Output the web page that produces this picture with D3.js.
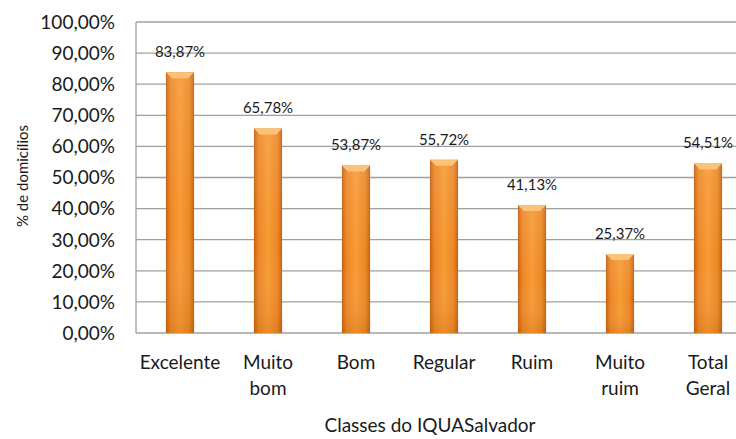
<!DOCTYPE html>
<html>
<head>
<meta charset="utf-8">
<script src="https://cdn.jsdelivr.net/npm/d3@7"></script>
<style>
  body { margin: 0; background: #fff; }
  svg { display: block; font-family: Lato, "Open Sans", sans-serif; }
</style>
</head>
<body>
<div id="chart"></div>
<script>
var categories = [["Excelente"], ["Muito", "bom"], ["Bom"], ["Regular"], ["Ruim"], ["Muito", "ruim"], ["Total", "Geral"]];
var values = [83.87, 65.78, 53.87, 55.72, 41.13, 25.37, 54.51];
var ticks = [0, 10, 20, 30, 40, 50, 60, 70, 80, 90, 100];

var width = 736,
    height = 439;

var fmt = function(v) { return v.toFixed(2).replace(".", ",") + "%"; };

var svg = d3.select("#chart").append("svg")
    .attr("width", width)
    .attr("height", height);

var x = d3.scaleBand()
    .domain(d3.range(categories.length))
    .range([136, 752])
    .paddingInner(0.68)
    .paddingOuter(0.34);

var y = d3.scaleLinear()
    .domain([0, 100])
    .range([333, 22]);

// bar gradient: darker edges, lighter middle
var defs = svg.append("defs");
var grad = defs.append("linearGradient").attr("id", "barGrad")
    .attr("x1", "0").attr("x2", "1").attr("y1", "0").attr("y2", "0");
grad.append("stop").attr("offset", "0%").attr("stop-color", "#c4600f");
grad.append("stop").attr("offset", "16%").attr("stop-color", "#ec8625");
grad.append("stop").attr("offset", "50%").attr("stop-color", "#f79a33");
grad.append("stop").attr("offset", "84%").attr("stop-color", "#ec8625");
grad.append("stop").attr("offset", "100%").attr("stop-color", "#c4600f");

var shade = defs.append("linearGradient").attr("id", "shadeGrad")
    .attr("x1", "0").attr("x2", "0").attr("y1", "0").attr("y2", "1");
shade.append("stop").attr("offset", "0%").attr("stop-color", "#fff").attr("stop-opacity", 0.1);
shade.append("stop").attr("offset", "60%").attr("stop-color", "#fff").attr("stop-opacity", 0);
shade.append("stop").attr("offset", "100%").attr("stop-color", "#a84e00").attr("stop-opacity", 0.18);

// gridlines
svg.append("g")
  .selectAll("line")
  .data(ticks)
  .enter().append("line")
    .attr("x1", 136)
    .attr("x2", width)
    .attr("y1", function(d) { return y(d); })
    .attr("y2", function(d) { return y(d); })
    .attr("stroke", "#a0a0a0")
    .attr("stroke-width", 1.3);

// left axis line
svg.append("line")
    .attr("x1", 136).attr("x2", 136)
    .attr("y1", y(100)).attr("y2", y(0))
    .attr("stroke", "#a0a0a0")
    .attr("stroke-width", 1.3);

// y tick labels
svg.append("g")
  .selectAll("text")
  .data(ticks)
  .enter().append("text")
    .attr("x", 115)
    .attr("y", function(d) { return y(d); })
    .attr("dy", "0.36em")
    .attr("text-anchor", "end")
    .attr("font-size", 19)
    .attr("fill", "#1a1a1a")
    .text(fmt);

// bars
var bars = svg.append("g")
  .selectAll("g")
  .data(values)
  .enter().append("g");

bars.append("rect")
    .attr("x", function(d, i) { return x(i); })
    .attr("y", function(d) { return y(d); })
    .attr("width", x.bandwidth())
    .attr("height", function(d) { return y(0) - y(d); })
    .attr("fill", "url(#barGrad)");

bars.append("rect")
    .attr("x", function(d, i) { return x(i); })
    .attr("y", function(d) { return y(d); })
    .attr("width", x.bandwidth())
    .attr("height", function(d) { return y(0) - y(d); })
    .attr("fill", "url(#shadeGrad)");

// top bevel
bars.append("path")
    .attr("d", function(d, i) {
      var x0 = x(i), x1 = x(i) + x.bandwidth(), t = y(d), b = 6;
      return "M" + x0 + "," + t + "L" + x1 + "," + t + "L" + (x1 - b) + "," + (t + b) +
             "L" + (x0 + b) + "," + (t + b) + "Z";
    })
    .attr("fill", "#fbc27a");

// value labels
bars.append("text")
    .attr("x", function(d, i) { return x(i) + x.bandwidth() / 2; })
    .attr("y", function(d) { return y(d) - 15; })
    .attr("text-anchor", "middle")
    .attr("font-size", 15)
    .attr("fill", "#1a1a1a")
    .text(fmt);

// category labels
var cats = svg.append("g")
  .selectAll("text")
  .data(categories)
  .enter().append("text")
    .attr("x", function(d, i) { return x(i) + x.bandwidth() / 2; })
    .attr("y", 369)
    .attr("text-anchor", "middle")
    .attr("font-size", 19)
    .attr("fill", "#1a1a1a");

cats.selectAll("tspan")
  .data(function(d) { return d; })
  .enter().append("tspan")
    .attr("x", function() { return d3.select(this.parentNode).attr("x"); })
    .attr("dy", function(d, j) { return j === 0 ? 0 : 26; })
    .text(function(d) { return d; });

// axis titles
svg.append("text")
    .attr("x", 430)
    .attr("y", 432)
    .attr("text-anchor", "middle")
    .attr("font-size", 19)
    .attr("fill", "#1a1a1a")
    .text("Classes do IQUASalvador");

svg.append("text")
    .attr("transform", "translate(28,176) rotate(-90)")
    .attr("text-anchor", "middle")
    .attr("font-size", 15)
    .attr("fill", "#1a1a1a")
    .text("% de domicílios");
</script>
</body>
</html>
